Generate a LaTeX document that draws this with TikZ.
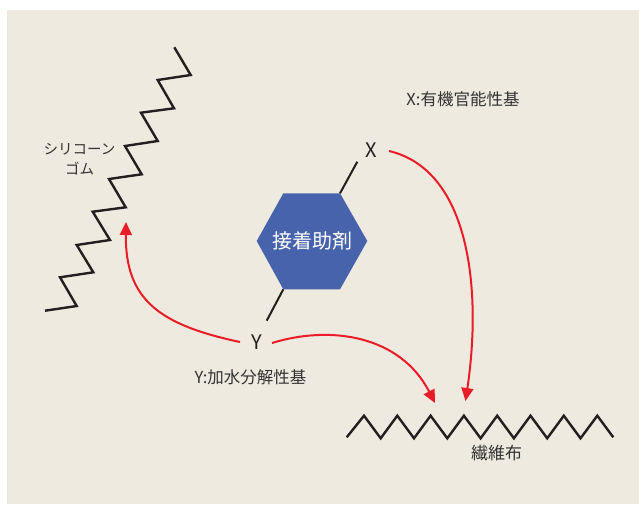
\documentclass[tikz,border=0pt]{standalone}
\usepackage{fontspec}
\setmainfont{Noto Sans CJK JP}
\usetikzlibrary{arrows.meta}
\definecolor{bgc}{HTML}{EEEAE0}
\definecolor{hexblue}{HTML}{4763AC}
\definecolor{arrred}{HTML}{EA1C28}
\definecolor{txt}{HTML}{333333}
\definecolor{ink}{HTML}{231F20}
\tikzset{
  chain/.style={draw=ink,line width=2.4pt,line join=miter},
  stick/.style={draw=ink,line width=2pt},
  lbl/.style={text=txt,inner sep=0pt,font=\fontsize{16.5}{19}\selectfont},
  xy/.style={text=ink,inner sep=1pt,font=\fontsize{20}{22}\selectfont},
  redarrow/.style={draw=arrred,line width=2pt,-{Triangle[length=13pt,width=12pt]}},
}
\begin{document}
\begin{tikzpicture}[x=1pt,y=-1pt]
\useasboundingbox (0,0) rectangle (639,504);
\fill[bgc] (7,10) rectangle (639,504);
% silicone rubber chain
\draw[chain] (174.3,47.3) -- (190.7,75) -- (157.7,80) -- (174,108.3) -- (141,112.7)
  -- (157.7,141) -- (125,146) -- (141.7,174.3) -- (109,179) -- (125.7,207.3)
  -- (92.7,211.7) -- (110,240) -- (76.7,245) -- (93.3,272.3) -- (60,277.3)
  -- (76.7,306) -- (45,310.7);
\node[lbl,align=center,font=\fontsize{14.5}{17}\selectfont] (rubber) at (79.5,159) {シリコーン\\[3pt]ゴム};
% fibre cloth chain
\draw[chain] (346.7,437.3)
  \foreach \k in {0,...,6} { -- ({364+33.3*\k},415.7) -- ({380.7+33.3*\k},438.3) }
  -- (597.3,415.7) -- (613.3,437.3);
\node[lbl,font=\fontsize{17}{19}\selectfont] (cloth) at (496.7,453) {繊維布};
% hexagon
\coordinate (htr) at (340,193.3);
\coordinate (hbl) at (283.3,289.3);
\fill[hexblue] (256.7,241) -- (283.3,193.3) -- (htr) -- (367.3,241) -- (340,289.3) -- (hbl) -- cycle;
\node[text=white,font=\fontsize{20}{22}\selectfont] (agent) at (312,241) {接着助剤};
% X and Y
\node[xy] (X) at (371.7,150) {X};
\node[xy] (Y) at (256.7,342.5) {Y};
\coordinate (xend) at (357.3,161.7);
\coordinate (yend) at (266.7,320.7);
\draw[stick] (htr) -- (xend);
\draw[stick] (hbl) -- (yend);
\node[lbl] (xlabel) at (463,99) {X:有機官能性基};
\node[lbl] (ylabel) at (250.5,377.5) {Y:加水分解性基};
% arrow targets
\coordinate (tR) at (126,222);
\coordinate (tC1) at (435,403);
\coordinate (tC2) at (465.5,401);
\coordinate (xs) at (389,151);
\coordinate (ys1) at (272,343);
\coordinate (ys2) at (240,342);
% red arrows
\draw[redarrow] (xs) .. controls (470,170) and (482,290) .. (tC2);
\draw[redarrow] (ys1) .. controls (330,325) and (400,335) .. (tC1);
\draw[redarrow] (ys2) .. controls (160,325) and (125,300) .. (tR);
\end{tikzpicture}
\end{document}
